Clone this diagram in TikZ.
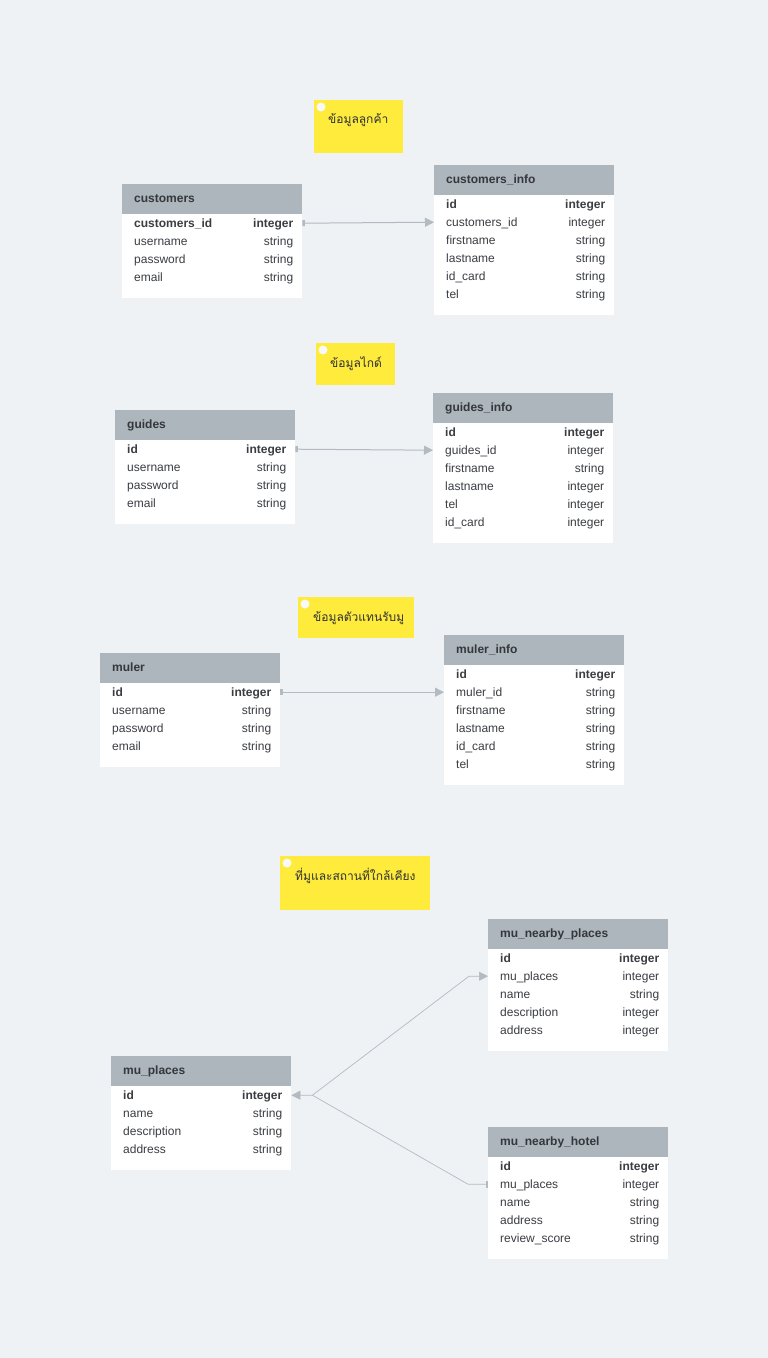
\documentclass[tikz,border=0pt]{standalone}
\usepackage{fontspec}
\setmainfont{Liberation Sans}
\newfontfamily\thaifont[Script=Thai]{Loma}
\usetikzlibrary{arrows.meta,calc}
\definecolor{bgc}{HTML}{EEF2F5}
\definecolor{hdrc}{HTML}{ADB5BD}
\definecolor{sepc}{HTML}{E6E9EC}
\definecolor{txtc}{HTML}{3A3D42}
\definecolor{notec}{HTML}{FFEB3B}
\definecolor{connc}{HTML}{B3BAC2}
\definecolor{tipc}{HTML}{B3BAC2}

\tikzset{
  hdrbox/.style={fill=hdrc, draw=none, minimum width=180pt, minimum height=30pt, anchor=north west, inner sep=0pt},
  rowbox/.style={fill=white, draw=none, minimum width=180pt, minimum height=18pt, anchor=north west, inner sep=0pt},
  footbox/.style={fill=white, draw=none, minimum width=180pt, minimum height=12pt, anchor=north west, inner sep=0pt},
  sepline/.style={draw=sepc, line width=1pt},
  celltext/.style={font=\fontsize{12}{14}\selectfont, text=txtc, inner sep=0pt},
  hdrtext/.style={font=\fontsize{12}{14}\selectfont\bfseries, text=txtc!90!black, inner sep=0pt},
  notebox/.style={fill=notec, draw=none, anchor=north west, inner sep=0pt},
  notetext/.style={font=\thaifont\fontsize{12}{14}\selectfont, text=txtc!80!black, inner sep=0pt, anchor=west},
  conn/.style={draw=connc, line width=1pt},
}

\newcommand{\erdtable}[6]{%
  \node[hdrbox] (#1) at (#2,#3) {};
  \node[hdrtext, anchor=base west] (#1-t) at ($(#1.west)+(12,3.5)$) {#4};
  \foreach [count=\i] \f/\t in {#6} {
    \node[rowbox] (#1-r\i) at (#2, #3+30+18*\i-18) {};
    \draw[sepline] (#1-r\i.south west) -- (#1-r\i.south east);
    \node[celltext, anchor=base west] (#1-f\i) at ($(#1-r\i.west)+(12,3.8)$) {\ifnum\i=1 \bfseries\fi\f};
    \node[celltext, anchor=base east] (#1-y\i) at ($(#1-r\i.east)+(-9,3.8)$) {\ifnum\i=1 \bfseries\fi\t};
  }
  \node[footbox] (#1-foot) at (#2, #3+30+18*#5) {};
}

\begin{document}
\begin{tikzpicture}[x=1pt, y=-1pt]
\useasboundingbox (0,0) rectangle (768,1358);
\fill[bgc] (0,0) rectangle (768,1358);

% notes
\node[notebox, minimum width=89pt, minimum height=53pt] (n1) at (314,100) {};
\fill[white!95!gray] ($(n1.north west)+(7,7)$) circle (4.5);
\node[notetext] (n1t) at ($(n1.north west)+(14,20)$) {ข้อมูลลูกค้า};

\node[notebox, minimum width=79pt, minimum height=42pt] (n2) at (316,343) {};
\fill[white!95!gray] ($(n2.north west)+(7,7)$) circle (4.5);
\node[notetext] (n2t) at ($(n2.north west)+(14,21)$) {ข้อมูลไกด์};

\node[notebox, minimum width=116pt, minimum height=41pt] (n3) at (298,597) {};
\fill[white!95!gray] ($(n3.north west)+(7,7)$) circle (4.5);
\node[notetext] (n3t) at ($(n3.north west)+(15,21)$) {ข้อมูลตัวแทนรับมู};

\node[notebox, minimum width=150pt, minimum height=54pt] (n4) at (280,856) {};
\fill[white!95!gray] ($(n4.north west)+(7,7)$) circle (4.5);
\node[notetext] (n4t) at ($(n4.north west)+(15,20)$) {ที่มูและสถานที่ใกล้เคียง};

% tables
\erdtable{cust}{122}{184}{customers}{4}{customers\_id/integer, username/string, password/string, email/string}
\erdtable{custinfo}{434}{165}{customers\_info}{6}{id/integer, customers\_id/integer, firstname/string, lastname/string, id\_card/string, tel/string}
\erdtable{guides}{115}{410}{guides}{4}{id/integer, username/string, password/string, email/string}
\erdtable{guidesinfo}{433}{393}{guides\_info}{6}{id/integer, guides\_id/integer, firstname/string, lastname/integer, tel/integer, id\_card/integer}
\erdtable{muler}{100}{653}{muler}{4}{id/integer, username/string, password/string, email/string}
\erdtable{mulerinfo}{444}{635}{muler\_info}{6}{id/integer, muler\_id/string, firstname/string, lastname/string, id\_card/string, tel/string}
\erdtable{mnp}{488}{919}{mu\_nearby\_places}{5}{id/integer, mu\_places/integer, name/string, description/integer, address/integer}
\erdtable{mup}{111}{1056}{mu\_places}{4}{id/integer, name/string, description/string, address/string}
\erdtable{mnh}{488}{1127}{mu\_nearby\_hotel}{5}{id/integer, mu\_places/integer, name/string, address/string, review\_score/string}

% connectors
\draw[conn, {Rectangle[length=2.5pt,width=6pt,fill=tipc,color=tipc]}-{Triangle[length=9pt,width=9pt,fill=tipc,color=tipc]}] (cust-r1.east) -- (custinfo-r2.west);
\draw[conn, {Rectangle[length=2.5pt,width=6pt,fill=tipc,color=tipc]}-{Triangle[length=9pt,width=9pt,fill=tipc,color=tipc]}] (guides-r1.east) -- (guidesinfo-r2.west);
\draw[conn, {Rectangle[length=2.5pt,width=6pt,fill=tipc,color=tipc]}-{Triangle[length=9pt,width=9pt,fill=tipc,color=tipc]}] (muler-r1.east) -- (mulerinfo-r2.west);

\coordinate (j) at ($(mup-r1.east)+(21,0)$);
\coordinate (b1) at ($(mnp-r2.west)+(-19,0)$);
\coordinate (b2) at ($(mnh-r2.west)+(-20,0)$);
\draw[conn, line width=0.7pt, {Triangle[length=9pt,width=9pt,fill=tipc,color=tipc]}-{Triangle[length=9pt,width=9pt,fill=tipc,color=tipc]}] (mup-r1.east) -- (j) -- (b1) -- (mnp-r2.west);
\draw[conn, line width=0.7pt, -{Rectangle[length=2.5pt,width=6pt,fill=tipc,color=tipc]}] (j) -- (b2) -- (mnh-r2.west);
\end{tikzpicture}
\end{document}
